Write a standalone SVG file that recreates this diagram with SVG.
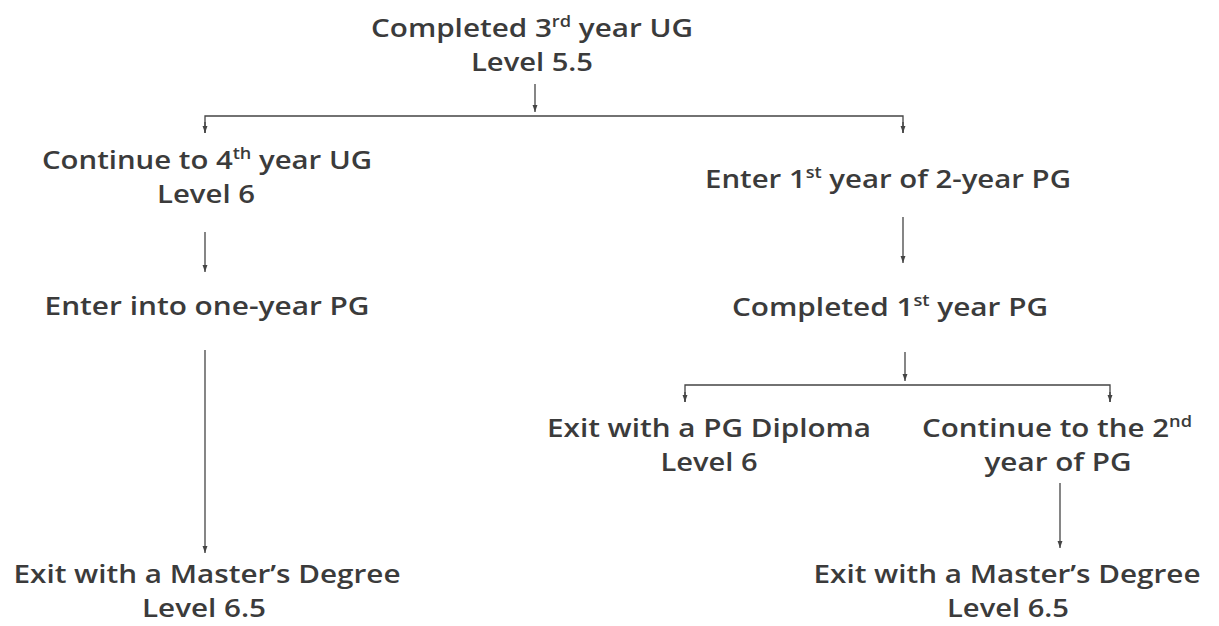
<svg xmlns="http://www.w3.org/2000/svg" width="1219" height="626" viewBox="0 0 1219 626">
<style>
text{font-family:"Open Sans","Noto Sans","DejaVu Sans",sans-serif;font-weight:600;font-size:26px;fill:#3b3b3b;text-anchor:middle}
.sup{font-size:16px}
.c{fill:none;stroke:#444;stroke-width:1.3}
</style>
<defs>
<marker id="ah" viewBox="0 0 10 10" refX="10" refY="5" markerWidth="7" markerHeight="7" markerUnits="userSpaceOnUse" orient="auto">
<path d="M0,1.5 L10,5 L0,8.5 Z" fill="#444"/>
</marker>
</defs>
<rect width="1219" height="626" fill="#fff"/>
<g id="connectors">
<line class="c" x1="535" y1="84" x2="535" y2="112" marker-end="url(#ah)"/>
<polyline class="c" points="205,133 205,116 903,116 903,133" />
<line class="c" x1="205" y1="122" x2="205" y2="133" marker-end="url(#ah)"/>
<line class="c" x1="903" y1="122" x2="903" y2="133" marker-end="url(#ah)"/>
<line class="c" x1="205" y1="232" x2="205" y2="272" marker-end="url(#ah)"/>
<line class="c" x1="205" y1="350" x2="205" y2="553" marker-end="url(#ah)"/>
<line class="c" x1="903" y1="217" x2="903" y2="263" marker-end="url(#ah)"/>
<line class="c" x1="905" y1="352" x2="905" y2="381" marker-end="url(#ah)"/>
<polyline class="c" points="685,402 685,385 1110,385 1110,402"/>
<line class="c" x1="685" y1="392" x2="685" y2="402" marker-end="url(#ah)"/>
<line class="c" x1="1110" y1="392" x2="1110" y2="402" marker-end="url(#ah)"/>
<line class="c" x1="1060" y1="483" x2="1060" y2="548" marker-end="url(#ah)"/>
</g>
<g id="n1">
<text x="532" y="37" textLength="322" lengthAdjust="spacingAndGlyphs">Completed 3<tspan class="sup" dy="-10">rd</tspan><tspan dy="10"> year UG</tspan></text>
<text x="532" y="71" textLength="122" lengthAdjust="spacingAndGlyphs">Level 5.5</text>
</g>
<g id="n2">
<text x="207" y="169" textLength="330" lengthAdjust="spacingAndGlyphs">Continue to 4<tspan class="sup" dy="-10">th</tspan><tspan dy="10"> year UG</tspan></text>
<text x="206" y="203" textLength="98" lengthAdjust="spacingAndGlyphs">Level 6</text>
</g>
<g id="n3">
<text x="207" y="315" textLength="325" lengthAdjust="spacingAndGlyphs">Enter into one-year PG</text>
</g>
<g id="n4">
<text x="207" y="583" textLength="387" lengthAdjust="spacingAndGlyphs">Exit with a Master’s Degree</text>
<text x="204" y="617" textLength="124" lengthAdjust="spacingAndGlyphs">Level 6.5</text>
</g>
<g id="n5">
<text x="888" y="188" textLength="366" lengthAdjust="spacingAndGlyphs">Enter 1<tspan class="sup" dy="-10">st</tspan><tspan dy="10"> year of 2-year PG</tspan></text>
</g>
<g id="n6">
<text x="890" y="316" textLength="316" lengthAdjust="spacingAndGlyphs">Completed 1<tspan class="sup" dy="-10">st</tspan><tspan dy="10"> year PG</tspan></text>
</g>
<g id="n7">
<text x="709" y="437" textLength="324" lengthAdjust="spacingAndGlyphs">Exit with a PG Diploma</text>
<text x="709" y="471" textLength="97" lengthAdjust="spacingAndGlyphs">Level 6</text>
</g>
<g id="n8">
<text x="1057" y="437" textLength="270" lengthAdjust="spacingAndGlyphs">Continue to the 2<tspan class="sup" dy="-10">nd</tspan></text>
<text x="1058" y="471" textLength="147" lengthAdjust="spacingAndGlyphs">year of PG</text>
</g>
<g id="n9">
<text x="1007" y="583" textLength="387" lengthAdjust="spacingAndGlyphs">Exit with a Master’s Degree</text>
<text x="1008" y="617" textLength="122" lengthAdjust="spacingAndGlyphs">Level 6.5</text>
</g>
</svg>
